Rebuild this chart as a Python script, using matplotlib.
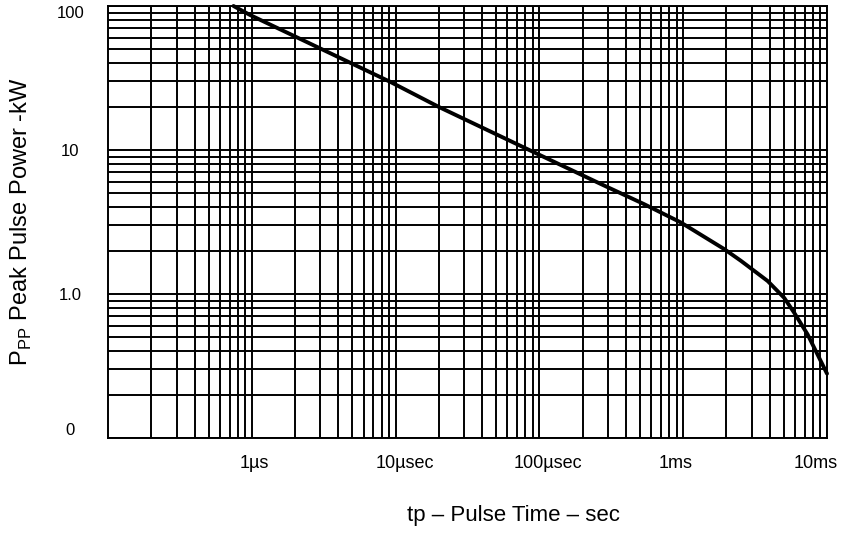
# Peak pulse power versus pulse time (log-log)

import matplotlib
matplotlib.use('Agg')
from matplotlib import pyplot as plt
from matplotlib import transforms
from matplotlib.ticker import LogLocator, NullFormatter

# Fonts

plt.rcParams['font.family'] = ['Liberation Sans', 'DejaVu Sans']
plt.rcParams['mathtext.fontset'] = 'custom'
plt.rcParams['mathtext.rm'] = 'Liberation Sans'

# Data: pulse time (µs) and peak power (kW)

pulse_time_us = [0.746, 0.975, 9.2, 20, 91.6, 267, 534, 962,
                 1930, 2520, 3870, 5040, 5920, 7330, 9080, 10000]
peak_power_kw = [100, 86.5, 29.7, 19.9, 9.65, 5.81, 4.21, 3.14,
                 2.05, 1.70, 1.23, 0.94, 0.74, 0.524, 0.34, 0.28]

x_ticks = [1e-6, 1e-5, 1e-4, 1e-3, 1e-2]
x_tick_labels = ['1µs', '10µsec', '100µsec', '1ms', '10ms']
y_ticks = [0.1, 1, 10, 100]
y_tick_labels = ['0', '1.0', '10', '100']

pulse_time_s = [t * 1e-6 for t in pulse_time_us]

# Figure and axes

fig = plt.figure(figsize=(8.41, 5.33), dpi=100)
ax = fig.add_axes([108 / 841, 95 / 533, 719 / 841, 432 / 533])

ax.set_xscale('log')
ax.set_yscale('log')
ax.set_xlim(1e-7, 1e-2)
ax.set_ylim(0.1, 100)

# Grid

ax.xaxis.set_minor_locator(LogLocator(base=10, subs=range(2, 10)))
ax.yaxis.set_minor_locator(LogLocator(base=10, subs=range(2, 10)))
ax.xaxis.set_minor_formatter(NullFormatter())
ax.yaxis.set_minor_formatter(NullFormatter())
ax.grid(True, which='both', color='black', linewidth=1.4)
ax.set_axisbelow(True)

for spine in ax.spines.values():
    spine.set_color('black')
    spine.set_linewidth(1.4)

# Curve

ax.plot(pulse_time_s, peak_power_kw, color='black', linewidth=2.8,
        solid_capstyle='round', solid_joinstyle='round', clip_on=False, zorder=5)

# Ticks

ax.tick_params(which='both', length=0)
ax.set_xticks(x_ticks)
ax.set_xticklabels(x_tick_labels, fontsize=13)
ax.tick_params(axis='x', pad=12)

ax.set_yticks(y_ticks)
ax.set_yticklabels(y_tick_labels, fontsize=12)
ax.tick_params(axis='y', pad=27)
for lab in ax.get_yticklabels():
    lab.set_ha('center')
ylabs = ax.get_yticklabels()
ylabs[0].set_va('bottom')
ylabs[-1].set_va('top')

# Nudge the x labels to where they sit in the original

x_offsets_px = [3, 9, 9, -8, -11]
for lab, dx in zip(ax.get_xticklabels(), x_offsets_px):
    lab.set_transform(lab.get_transform() +
                      transforms.ScaledTranslation(dx / 100, 0, fig.dpi_scale_trans))

# Axis titles

ax.set_xlabel('tp – Pulse Time – sec', fontsize=16, va='center')
ax.xaxis.set_label_coords((513 - 108) / 719, (438 - 516) / 432)
ax.set_ylabel(r'P$_{\mathrm{PP}}$ Peak Pulse Power -kW', fontsize=17, va='center')
ax.yaxis.set_label_coords((21 - 108) / 719, (438 - 222) / 432)

plt.savefig('out.png', dpi=100)
